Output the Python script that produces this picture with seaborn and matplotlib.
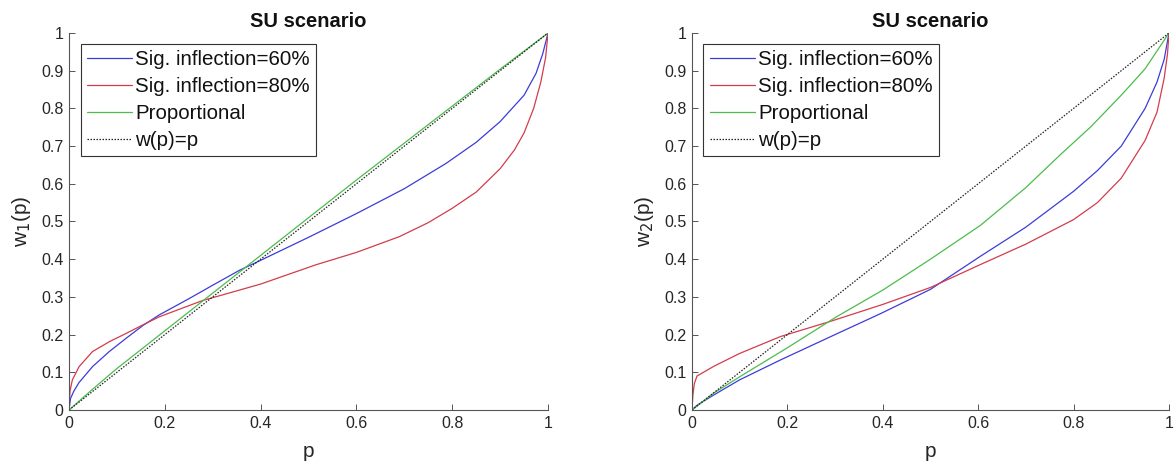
import numpy as np
import pandas as pd
import matplotlib
matplotlib.use("Agg")
import matplotlib.pyplot as plt
import seaborn as sns

sns.set_theme(style="white")
plt.rcParams["font.family"] = ["Liberation Sans", "DejaVu Sans"]

# ---- panel 1: w1(p) ----
p1_sig60 = [0.0, 0.003, 0.01, 0.021, 0.049, 0.084, 0.119, 0.153, 0.188, 0.25, 0.3, 0.355, 0.4, 0.5,
            0.6, 0.7, 0.787, 0.85, 0.9, 0.95, 0.975, 0.989, 1.0]
w1_sig60 = [0.0, 0.03, 0.05, 0.073, 0.115, 0.155, 0.19, 0.223, 0.252, 0.295, 0.331, 0.37, 0.397, 0.458,
            0.521, 0.587, 0.654, 0.71, 0.765, 0.835, 0.893, 0.945, 1.0]

p1_sig80 = [0.0, 0.002, 0.007, 0.021, 0.049, 0.084, 0.119, 0.153, 0.188, 0.278, 0.4, 0.515, 0.6, 0.69,
            0.75, 0.8, 0.85, 0.9, 0.93, 0.95, 0.97, 0.985, 0.995, 1.0]
w1_sig80 = [0.0, 0.05, 0.08, 0.115, 0.155, 0.181, 0.203, 0.225, 0.247, 0.29, 0.334, 0.385, 0.418, 0.46,
            0.497, 0.535, 0.578, 0.64, 0.69, 0.735, 0.80, 0.87, 0.935, 1.0]

p1_prop = [0.0, 0.05, 0.1, 0.2, 0.3, 0.4, 0.5, 0.6, 0.7, 0.8, 0.9, 1.0]
w1_prop = [0.0, 0.056, 0.11, 0.21, 0.31, 0.41, 0.51, 0.61, 0.708, 0.806, 0.904, 1.0]

# ---- panel 2: w2(p) ----
p2_sig60 = [0.0, 0.01, 0.02, 0.046, 0.1, 0.186, 0.3, 0.396, 0.5, 0.605, 0.7, 0.8, 0.85, 0.9, 0.95,
            0.975, 0.99, 1.0]
w2_sig60 = [0.0, 0.012, 0.02, 0.04, 0.08, 0.133, 0.2, 0.256, 0.32, 0.408, 0.485, 0.58, 0.635, 0.70,
            0.80, 0.87, 0.93, 1.0]

p2_sig80 = [0.0, 0.002, 0.005, 0.0105, 0.046, 0.1, 0.186, 0.29, 0.4, 0.5, 0.605, 0.7, 0.8, 0.85,
            0.9, 0.95, 0.975, 0.99, 0.997, 1.0]
w2_sig80 = [0.0, 0.04, 0.07, 0.09, 0.116, 0.15, 0.195, 0.235, 0.28, 0.325, 0.386, 0.44, 0.505, 0.55,
            0.615, 0.715, 0.79, 0.88, 0.945, 1.0]

p2_prop = [0.0, 0.046, 0.1, 0.2, 0.3, 0.4, 0.5, 0.605, 0.7, 0.773, 0.836, 0.9, 0.95, 1.0]
w2_prop = [0.0, 0.045, 0.088, 0.165, 0.245, 0.318, 0.40, 0.49, 0.59, 0.678, 0.751, 0.835, 0.905, 1.0]

diag = [0.0, 1.0]

series_labels = ["Sig. inflection=60%", "Sig. inflection=80%", "Proportional", "w(p)=p"]
series_colors = ["#3c3cd8", "#d23c4c", "#4cbc4c", "#222222"]

x_ticks = [0, 0.2, 0.4, 0.6, 0.8, 1]
x_tick_labels = ["0", "0.2", "0.4", "0.6", "0.8", "1"]
y_ticks = [0, 0.1, 0.2, 0.3, 0.4, 0.5, 0.6, 0.7, 0.8, 0.9, 1]
y_tick_labels = ["0", "0.1", "0.2", "0.3", "0.4", "0.5", "0.6", "0.7", "0.8", "0.9", "1"]

panels = [
    dict(sig60=(p1_sig60, w1_sig60), sig80=(p1_sig80, w1_sig80), prop=(p1_prop, w1_prop),
         ylabel=r"w$_1$(p)", title="SU scenario", pos=[0.0587, 0.1145, 0.4073, 0.8142]),
    dict(sig60=(p2_sig60, w2_sig60), sig80=(p2_sig80, w2_sig80), prop=(p2_prop, w2_prop),
         ylabel=r"w$_2$(p)", title="SU scenario", pos=[0.5884, 0.1145, 0.4056, 0.8142]),
]

fig = plt.figure(figsize=(11.76, 4.63), dpi=100)
text_col = "#262626"

for pan in panels:
    ax = fig.add_axes(pan["pos"])
    for key, lab, col in zip(["sig60", "sig80", "prop"], series_labels[:3], series_colors[:3]):
        xs, ys = pan[key]
        sns.lineplot(x=xs, y=ys, ax=ax, color=col, linewidth=0.9, label=lab, sort=False)
    sns.lineplot(x=diag, y=diag, ax=ax, color=series_colors[3], linewidth=0.9,
                 linestyle=(0, (1.2, 1.2)), label=series_labels[3], sort=False)

    ax.set_xlim(0, 1)
    ax.set_ylim(0, 1)
    ax.set_xticks(x_ticks)
    ax.set_xticklabels(x_tick_labels)
    ax.set_yticks(y_ticks)
    ax.set_yticklabels(y_tick_labels)
    ax.tick_params(direction="in", length=4, width=0.7, colors="#555555",
                   labelcolor=text_col, labelsize=11.5, pad=4,
                   left=True, bottom=True)
    for side in ["top", "right"]:
        ax.spines[side].set_visible(False)
    for side in ["left", "bottom"]:
        ax.spines[side].set_color("#555555")
        ax.spines[side].set_linewidth(0.8)

    ax.set_xlabel("p", fontsize=15, color=text_col, labelpad=8)
    ax.set_ylabel(pan["ylabel"], fontsize=15, color=text_col, labelpad=6)
    ax.set_title(pan["title"], fontsize=14.5, fontweight="bold", color="#111111", pad=4)

    leg = ax.legend(loc="upper left", bbox_to_anchor=(0.024, 0.97), fontsize=14.8,
                    frameon=True, fancybox=False, framealpha=1, edgecolor="#333333",
                    handlelength=2.2, handletextpad=0.15, borderpad=0.3,
                    labelspacing=0.38, borderaxespad=0.0)
    leg.get_frame().set_linewidth(0.8)
    for t in leg.get_texts():
        t.set_color("#111111")

fig.savefig("out.png", dpi=100, facecolor="white")
